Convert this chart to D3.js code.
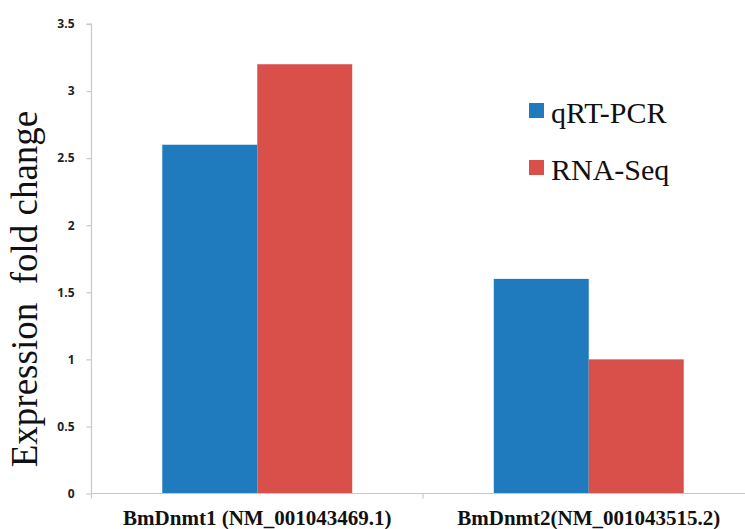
<!DOCTYPE html>
<html>
<head>
<meta charset="utf-8">
<script src="https://cdn.jsdelivr.net/npm/d3@7"></script>
<style>
  html, body { margin: 0; padding: 0; background: #fff; }
  svg { display: block; }
</style>
</head>
<body>
<svg id="chart" width="745" height="529"></svg>
<script>
// Gene targets and fold-change values for each method
const genes = ["BmDnmt1 (NM_001043469.1)", "BmDnmt2(NM_001043515.2)"];
const seriesNames = ["qRT-PCR", "RNA-Seq"];
const qrtPcr = [2.6, 1.6];
const rnaSeq = [3.2, 1.0];
const yTicks = [0, 0.5, 1, 1.5, 2, 2.5, 3, 3.5];
const colors = ["#1f7bbd", "#d9504a"];

(function draw() {
  const svg = d3.select("#chart");
  const m = { left: 91.5, right: 754.5, top: 24, bottom: 493.5 };

  const x = d3.scaleBand().domain(genes).range([m.left, m.right]).padding(0);
  const groupFrac = 0.573;
  const xs = d3.scaleBand().domain(seriesNames)
    .range([0, x.bandwidth() * groupFrac]).padding(0);
  const y = d3.scaleLinear().domain([0, 3.5]).range([m.bottom, m.top]);

  const axisColor = "#c8c8c8";

  // Y axis
  const yAxis = svg.append("g")
    .attr("transform", `translate(${m.left},0)`)
    .call(d3.axisLeft(y).tickValues(yTicks).tickSize(5).tickPadding(12)
      .tickFormat(d => String(d)));
  yAxis.select(".domain").attr("stroke", axisColor).attr("stroke-width", 1.2)
    .attr("d", `M-5,${m.top}H0V${m.bottom}`);
  yAxis.selectAll(".tick line").attr("stroke", axisColor).attr("stroke-width", 1.2);
  yAxis.selectAll(".tick text")
    .attr("font-family", "'Open Sans', 'Liberation Sans', sans-serif")
    .attr("font-weight", "bold").attr("font-size", 12).attr("fill", "#222");

  // Bars
  const data = genes.map((g, i) => ({ gene: g, values: [qrtPcr[i], rnaSeq[i]] }));
  const groups = svg.append("g").selectAll("g").data(data).join("g")
    .attr("transform", d => `translate(${x(d.gene) + x.bandwidth() * (1 - groupFrac) / 2},0)`);
  groups.selectAll("rect").data(d => d.values.map((v, j) => ({ s: seriesNames[j], v, j })))
    .join("rect")
    .attr("x", d => xs(d.s))
    .attr("width", xs.bandwidth())
    .attr("y", d => y(d.v))
    .attr("height", d => y(0) - y(d.v))
    .attr("fill", d => colors[d.j]);

  // X axis
  const xAxis = svg.append("g")
    .attr("transform", `translate(0,${m.bottom})`)
    .call(d3.axisBottom(x).tickSize(0).tickPadding(17));
  xAxis.select(".domain").attr("stroke", axisColor).attr("stroke-width", 1.2)
    .attr("d", `M${m.left},0H${m.right}`);
  xAxis.selectAll(".tick text")
    .attr("font-family", "'Liberation Serif', 'Times New Roman', serif")
    .attr("font-weight", "bold").attr("font-size", 21).attr("fill", "#111");
  // Category separators
  xAxis.selectAll(".sep").data([x(genes[0]), x(genes[1])]).join("line")
    .attr("class", "sep")
    .attr("x1", d => d).attr("x2", d => d).attr("y1", 0).attr("y2", 5)
    .attr("stroke", axisColor).attr("stroke-width", 1.2);

  // Y axis title
  svg.append("text")
    .attr("transform", "translate(37,289) rotate(-90)")
    .attr("text-anchor", "middle")
    .attr("font-family", "'Liberation Serif', 'Times New Roman', serif")
    .attr("font-size", 37).attr("fill", "#111")
    .style("white-space", "pre")
    .text("Expression  fold change");

  // Legend
  const legend = svg.append("g").selectAll("g").data(seriesNames).join("g")
    .attr("transform", (d, i) => `translate(529,${103 + i * 57})`);
  legend.append("rect").attr("width", 15).attr("height", 15)
    .attr("fill", (d, i) => colors[i]);
  legend.append("text").attr("x", 22).attr("y", 20)
    .attr("font-family", "'Liberation Serif', 'Times New Roman', serif")
    .attr("font-size", 30).attr("fill", "#111")
    .text(d => d);
})();
</script>
</body>
</html>
